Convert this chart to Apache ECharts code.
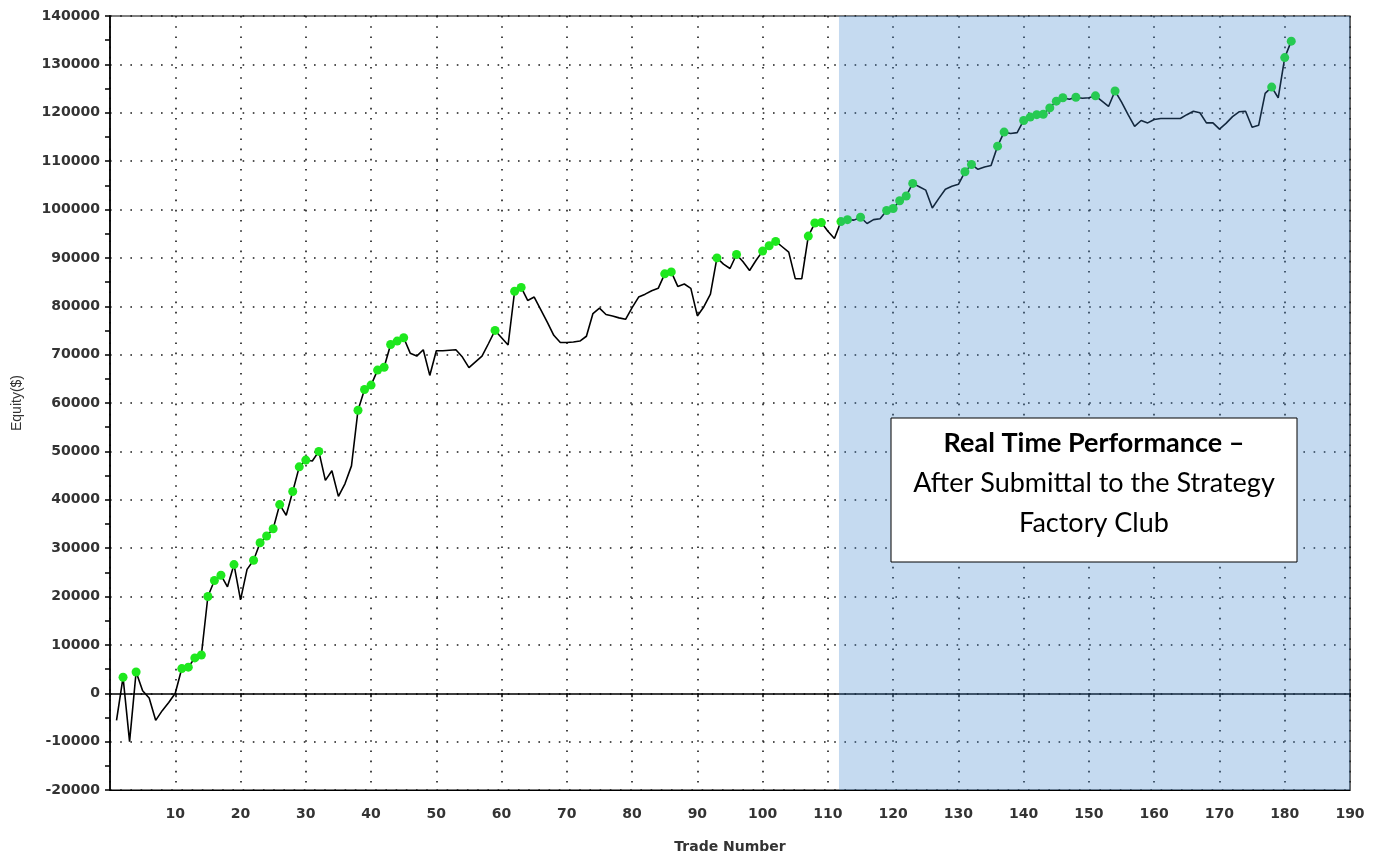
<!DOCTYPE html>
<html>
<head>
<meta charset="utf-8">
<script src="https://cdn.jsdelivr.net/npm/echarts@6/dist/echarts.min.js"></script>
<style>
html,body{margin:0;padding:0;background:#fff;}
#chart{width:1382px;height:861px;}
</style>
</head>
<body>
<div id="chart"></div>
<script>
// Equity after each trade (trade 1 .. 181), in dollars
const equity = [
  -5600, 3300, -10000, 4400, 500, -1000, -5600, -3600, -1900, 0,
  5100, 5400, 7300, 7900, 20000, 23300, 24400, 22000, 26600, 19300,
  25600, 27500, 31100, 32500, 34000, 39000, 36800, 41700, 46800, 48200,
  48000, 50000, 44000, 46000, 40700, 43300, 47000, 58500, 62800, 63700,
  66800, 67400, 72100, 72800, 73500, 70300, 69700, 71000, 65700, 70800,
  70800, 70900, 71000, 69500, 67300, 68500, 69700, 72300, 75000, 73500,
  72000, 83100, 83900, 81200, 81900, 79300, 76700, 74000, 72500, 72500,
  72600, 72800, 73800, 78500, 79600, 78300, 78000, 77600, 77300, 79700,
  81900, 82500, 83200, 83700, 86700, 87100, 84100, 84600, 83700, 78000,
  79900, 82500, 90000, 88700, 87800, 90700, 89200, 87400, 89500, 91400,
  92500, 93400, 92300, 91200, 85700, 85700, 94500, 97200, 97300, 95500,
  94000, 97500, 97900, 97800, 98400, 97100, 97900, 98100, 99800, 100200,
  101800, 102800, 105400, 104700, 104000, 100300, 102300, 104200, 104800, 105200,
  107800, 109300, 108300, 108800, 109100, 113100, 116000, 115700, 115900, 118400,
  119100, 119600, 119700, 121000, 122400, 123100, 122800, 123200, 123000, 123100,
  123500, 122400, 121300, 124500, 122200, 119600, 117200, 118400, 117900, 118600,
  118800, 118800, 118800, 118800, 119600, 120300, 120000, 117900, 117900, 116600,
  117800, 119200, 120200, 120300, 117000, 117400, 124000, 125300, 123100, 131400,
  134800
];
// Trade number from which the real-time (post-submittal) period starts
const realTimeStart = 111.7;
const xTickLabels = [10, 20, 30, 40, 50, 60, 70, 80, 90, 100, 110, 120, 130, 140, 150, 160, 170, 180, 190];
const yTickLabels = [-20000, -10000, 0, 10000, 20000, 30000, 40000, 50000, 60000, 70000, 80000, 90000, 100000, 110000, 120000, 130000, 140000];
const boxLines = ['Real Time Performance \u2013', 'After Submittal to the Strategy', 'Factory Club'];

const lineData = equity.map((v, i) => [i + 1, v]);
// new equity highs
const highs = [];
let runMax = 0;
equity.forEach((v, i) => { if (v > runMax) { runMax = v; highs.push([i + 1, v]); } });

const chart = echarts.init(document.getElementById('chart'), null, {renderer: 'canvas'});
const dotted = {color: '#1a1a1a', width: 1.6, type: [1.6, 8.6]};
const labelFont = {fontFamily: 'DejaVu Sans', fontSize: 14, fontWeight: 'bold', color: '#333'};

chart.setOption({
  animation: false,
  backgroundColor: '#fff',
  grid: {left: 110, right: 32, top: 16, bottom: 71, show: true, borderColor: '#000', borderWidth: 1.2, backgroundColor: 'transparent'},
  xAxis: [{
    type: 'value', min: 0, max: 190, interval: 10, position: 'bottom',
    name: 'Trade Number', nameLocation: 'middle', nameGap: 50,
    nameTextStyle: {fontFamily: 'DejaVu Sans', fontSize: 14, fontWeight: 'bold', color: '#333'},
    axisLine: {show: true, onZero: false, lineStyle: {color: '#000', width: 1.2}},
    axisTick: {show: false},
    axisLabel: Object.assign({margin: 17, formatter: v => xTickLabels.indexOf(v) >= 0 ? String(v) : ''}, labelFont),
    splitLine: {show: true, lineStyle: dotted}
  }, {
    type: 'value', min: 0, max: 190, interval: 10, position: 'bottom',
    axisLine: {show: true, onZero: true, lineStyle: {color: '#000', width: 1.5}},
    axisTick: {show: true, length: 4, lineStyle: {color: '#000', width: 1.5}},
    axisLabel: {show: false},
    splitLine: {show: false}
  }],
  yAxis: {
    type: 'value', min: -20000, max: 140000, interval: 10000,
    name: 'Equity($)', nameLocation: 'middle', nameGap: 86, nameRotate: 90,
    nameTextStyle: {fontFamily: 'Liberation Sans', fontSize: 14, color: '#333'},
    axisLine: {show: true, lineStyle: {color: '#000', width: 1.6}},
    axisTick: {show: true, length: 5, lineStyle: {color: '#000', width: 1.5}},
    minorTick: {show: true, splitNumber: 2, length: 5, lineStyle: {color: '#000', width: 1.5}},
    axisLabel: Object.assign({margin: 10, formatter: v => yTickLabels.indexOf(v) >= 0 ? String(v) : ''}, labelFont),
    splitLine: {show: true, lineStyle: dotted}
  },
  series: [{
    type: 'line', xAxisIndex: 0, data: lineData, showSymbol: false, symbol: 'none',
    lineStyle: {color: '#000', width: 1.6}, z: 3,
    markArea: {
      silent: true, z: 8,
      itemStyle: {color: 'rgba(62,132,205,0.30)'},
      data: [[{xAxis: realTimeStart, yAxis: -20000}, {xAxis: 190, yAxis: 140000}]]
    }
  }, {
    type: 'scatter', xAxisIndex: 0, data: highs, symbol: 'circle', symbolSize: 9,
    itemStyle: {color: '#1ee81e', opacity: 1}, z: 4
  }],
  graphic: [
    {type: 'rect', z: 100, shape: {x: 891, y: 418, width: 406, height: 144}, style: {fill: '#fff', stroke: '#000', lineWidth: 1}},
    {type: 'text', z: 101, x: 1094, y: 443, style: {text: boxLines[0], font: 'bold 27px Lato', fill: '#000', textAlign: 'center', textVerticalAlign: 'middle'}},
    {type: 'text', z: 101, x: 1094, y: 483, style: {text: boxLines[1], font: '27px Lato', fill: '#000', textAlign: 'center', textVerticalAlign: 'middle'}},
    {type: 'text', z: 101, x: 1094, y: 523, style: {text: boxLines[2], font: '27px Lato', fill: '#000', textAlign: 'center', textVerticalAlign: 'middle'}}
  ]
});
</script>
</body>
</html>
